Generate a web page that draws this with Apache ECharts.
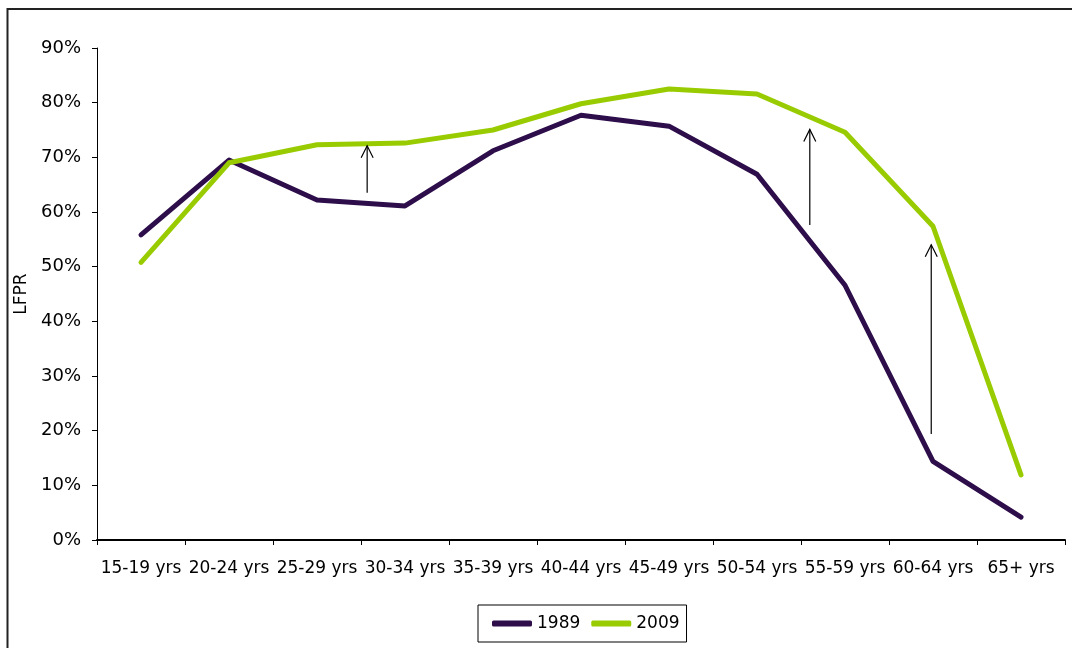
<!DOCTYPE html>
<html>
<head>
<meta charset="utf-8">
<script src="https://cdn.jsdelivr.net/npm/echarts@6/dist/echarts.min.js"></script>
<style>
  html, body { margin: 0; padding: 0; background: #fff; }
  #chart { width: 1072px; height: 648px; }
</style>
</head>
<body>
<div id="chart"></div>
<script>
// Labour force participation rate by age group
const categories = ['15-19 yrs', '20-24 yrs', '25-29 yrs', '30-34 yrs', '35-39 yrs', '40-44 yrs',
  '45-49 yrs', '50-54 yrs', '55-59 yrs', '60-64 yrs', '65+ yrs'];
const lfpr1989 = [55.8, 69.5, 62.2, 61.1, 71.2, 77.7, 75.7, 66.9, 46.6, 14.4, 4.2];
const lfpr2009 = [50.8, 69.0, 72.3, 72.6, 75.0, 79.8, 82.5, 81.6, 74.6, 57.4, 11.9];
const yTicks = [0, 10, 20, 30, 40, 50, 60, 70, 80, 90];

// Change arrows: x in category-width units (0 = left edge of axis), y from/to in %
const arrowX = [3.07, 8.10, 9.48];
const arrowFrom = [63.5, 57.6, 19.4];
const arrowTo = [72.1, 75.1, 54.0];

const FONT = 'DejaVu Sans';
const chart = echarts.init(document.getElementById('chart'), null, { renderer: 'canvas' });

chart.setOption({
  backgroundColor: '#fff',
  animation: false,
  textStyle: { fontFamily: FONT, color: '#000' },
  graphic: [{
    type: 'rect',
    shape: { x: 7.5, y: 9, width: 1200, height: 800 },
    style: { fill: 'none', stroke: '#222', lineWidth: 2 },
    silent: true
  }],
  grid: { left: 97, right: 7, top: 48, bottom: 108, containLabel: false, outerBoundsMode: 'none' },
  legend: {
    data: ['1989', '2009'],
    left: 478, top: 605,
    padding: [10, 7, 10, 14],
    itemGap: 11,
    borderColor: '#000', borderWidth: 1,
    icon: 'roundRect',
    itemWidth: 40, itemHeight: 6,
    textStyle: { fontFamily: FONT, fontSize: 17, color: '#000' }
  },
  xAxis: [{
    type: 'category',
    data: categories,
    boundaryGap: true,
    axisLine: { lineStyle: { color: '#000', width: 2 } },
    axisTick: { show: true, length: 5, alignWithLabel: false, lineStyle: { color: '#000', width: 1 } },
    axisLabel: { fontFamily: FONT, fontSize: 17, color: '#000', margin: 20, interval: 0 },
    splitLine: { show: false }
  }, {
    type: 'value', min: 0, max: 11, show: false
  }],
  yAxis: {
    type: 'value',
    min: 0, max: 90, interval: 10,
    name: 'LFPR',
    nameLocation: 'middle',
    nameGap: 67,
    nameRotate: 90,
    nameTextStyle: { fontFamily: FONT, fontSize: 17, color: '#000' },
    axisLine: { show: true, lineStyle: { color: '#000', width: 1 } },
    axisTick: { show: true, length: 5, lineStyle: { color: '#000' } },
    axisLabel: {
      fontFamily: FONT, fontSize: 18, color: '#000', margin: 16,
      formatter: v => yTicks.includes(v) ? v + '%' : ''
    },
    splitLine: { show: false }
  },
  series: [{
    name: '1989',
    type: 'line',
    data: lfpr1989,
    symbol: 'none',
    lineStyle: { color: '#2D0D4A', width: 5, cap: 'round', join: 'round' },
    itemStyle: { color: '#2D0D4A' },
    z: 3
  }, {
    name: '2009',
    type: 'line',
    data: lfpr2009,
    symbol: 'none',
    lineStyle: { color: '#99CC00', width: 5, cap: 'round', join: 'round' },
    itemStyle: { color: '#99CC00' },
    z: 4
  }, {
    name: 'arrows',
    type: 'custom',
    xAxisIndex: 1,
    data: arrowX.map((x, i) => [x, arrowFrom[i], arrowTo[i]]),
    z: 5,
    silent: true,
    renderItem: function (params, api) {
      const p0 = api.coord([api.value(0), api.value(1)]);
      const p1 = api.coord([api.value(0), api.value(2)]);
      const st = { stroke: '#000', lineWidth: 1.2, fill: 'none' };
      return {
        type: 'group',
        children: [{
          type: 'line',
          shape: { x1: p0[0], y1: p0[1], x2: p1[0], y2: p1[1] },
          style: st
        }, {
          type: 'polyline',
          shape: { points: [[p1[0] - 6, p1[1] + 12], [p1[0], p1[1]], [p1[0] + 6, p1[1] + 12]] },
          style: st
        }]
      };
    }
  }]
});
</script>
</body>
</html>
